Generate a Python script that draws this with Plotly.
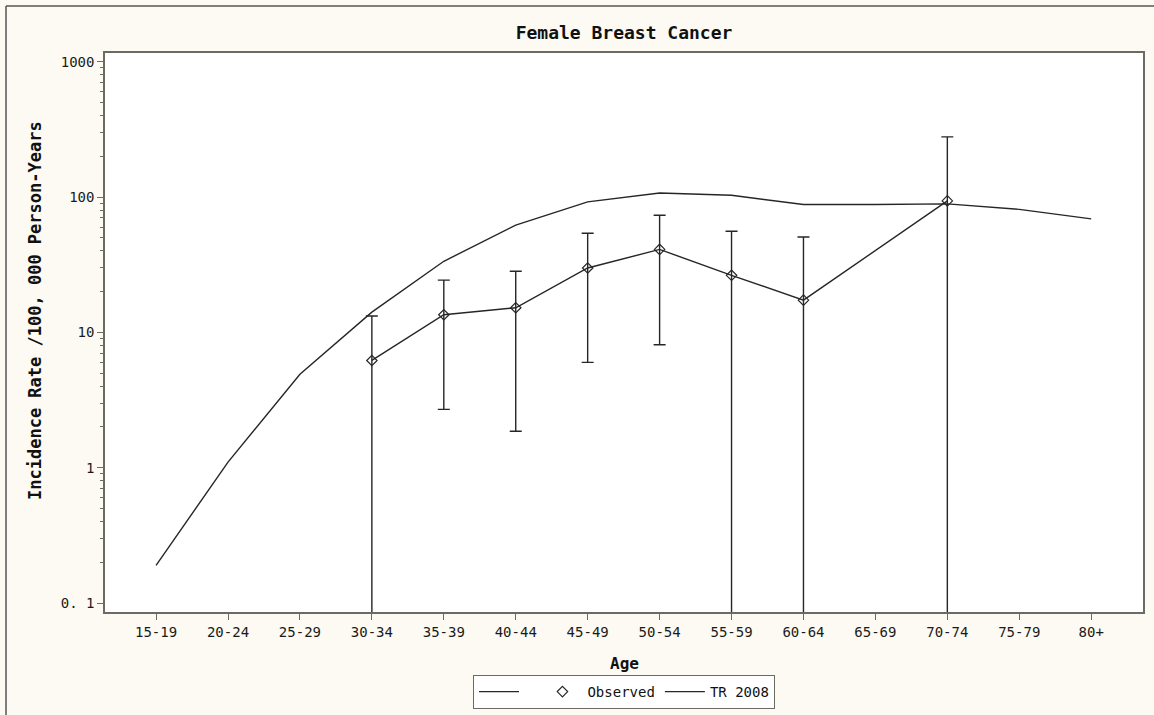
import plotly.graph_objects as go

# ---- data ----
age_groups = ["15-19", "20-24", "25-29", "30-34", "35-39", "40-44", "45-49",
              "50-54", "55-59", "60-64", "65-69", "70-74", "75-79", "80+"]

tr2008 = [0.19, 1.1, 4.9, 14.1, 33.5, 62, 92, 107, 103, 88, 88, 89, 81, 69]

obs_groups = ["30-34", "35-39", "40-44", "45-49", "50-54", "55-59", "60-64", "70-74"]
observed = [6.2, 13.5, 15.2, 29.9, 41, 26.4, 17.3, 93.6]
obs_upper = [13.2, 24.3, 28.3, 54, 73.4, 55.9, 50.7, 278]
obs_lower = [0.0, 2.7, 1.86, 6.0, 8.1, 0.0, 0.0, 0.0]

y_tickvals = [0.1, 1, 10, 100, 1000]
y_ticktext = ["0. 1", "1", "10", "100", "1000"]

# ---- derived ----
idx = {g: i for i, g in enumerate(age_groups)}
obs_x = [idx[g] for g in obs_groups]
err_plus = [u - v for u, v in zip(obs_upper, observed)]
err_minus = [v - l for v, l in zip(observed, obs_lower)]
minor_vals = [m * 10 ** e for e in range(-1, 3) for m in range(2, 10)]

LINE = "#262626"
AXIS = "#6b6b62"
MONO = "DejaVu Sans Mono"

fig = go.Figure()

fig.add_trace(go.Scatter(
    x=obs_x, y=observed, mode="lines", name=" ",
    line=dict(color=LINE, width=1.4),
    error_y=dict(type="data", array=err_plus, arrayminus=err_minus,
                 color=LINE, thickness=1.4, width=6, symmetric=False),
))
fig.add_trace(go.Scatter(
    x=obs_x, y=observed, mode="markers", name="Observed",
    marker=dict(symbol="diamond-open", size=8, color=LINE,
                line=dict(width=1.2, color=LINE)),
))
fig.add_trace(go.Scatter(
    x=list(range(len(age_groups))), y=tr2008, mode="lines", name="TR 2008",
    line=dict(color=LINE, width=1.4),
))

fig.update_layout(
    width=1154, height=715,
    margin=dict(l=105, r=11, t=53, b=103, autoexpand=False),
    paper_bgcolor="#fcfaf3",
    plot_bgcolor="#ffffff",
    font=dict(family=MONO, size=14, color="#1a1a1a"),
    title=dict(text="<b>Female Breast Cancer</b>", x=624 / 1154, xanchor="center",
               y=1 - 33 / 715, yanchor="middle",
               font=dict(family=MONO, size=18, color="#111")),
    showlegend=True,
    legend=dict(orientation="h", x=0.5, xanchor="center", y=(612 - 675) / 559, yanchor="top",
                bordercolor=AXIS, borderwidth=1, bgcolor="#ffffff",
                font=dict(family=MONO, size=14, color="#111"),
                itemwidth=40, tracegroupgap=0),
    xaxis=dict(
        range=[-0.71, 13.72],
        tickmode="array", tickvals=list(range(len(age_groups))), ticktext=age_groups,
        ticks="outside", ticklen=6, tickcolor=AXIS, tickwidth=1,
        showline=True, linecolor=AXIS, linewidth=1.5, mirror=True,
        showgrid=False, zeroline=False,
        tickfont=dict(family=MONO, size=14, color="#1a1a1a"),
    ),
    yaxis=dict(
        type="log", range=[-1.066, 3.064],
        tickmode="array", tickvals=y_tickvals, ticktext=y_ticktext,
        ticks="outside", ticklen=6, tickcolor=AXIS, tickwidth=1,
        minor=dict(tickmode="array", tickvals=minor_vals, ticks="outside",
                   ticklen=3, tickcolor=AXIS, showgrid=False),
        showline=True, linecolor=AXIS, linewidth=1.5, mirror=True,
        showgrid=False, zeroline=False,
        tickfont=dict(family=MONO, size=14, color="#1a1a1a"),
    ),
    annotations=[
        dict(text="<b>Age</b>", xref="paper", yref="paper",
             x=0.5, y=(612 - 663) / 559, xanchor="center", yanchor="middle",
             showarrow=False, font=dict(family=MONO, size=16, color="#111")),
        dict(text="<b>Incidence Rate /100, 000 Person-Years</b>", xref="paper", yref="paper",
             x=(35 - 105) / 1038, y=(612 - 311) / 559, xanchor="center", yanchor="middle",
             textangle=-90, showarrow=False, font=dict(family=MONO, size=17, color="#111")),
    ],
    shapes=[
        dict(type="line", xref="paper", yref="paper",
             x0=(6 - 105) / 1038, x1=1.2, y0=(612 - 6) / 559, y1=(612 - 6) / 559,
             line=dict(color="#555", width=1.5)),
        dict(type="line", xref="paper", yref="paper",
             x0=(6 - 105) / 1038, x1=(6 - 105) / 1038, y0=(612 - 6) / 559, y1=-0.3,
             line=dict(color="#555", width=1.5)),
    ],
)

fig.write_html("out.html")
